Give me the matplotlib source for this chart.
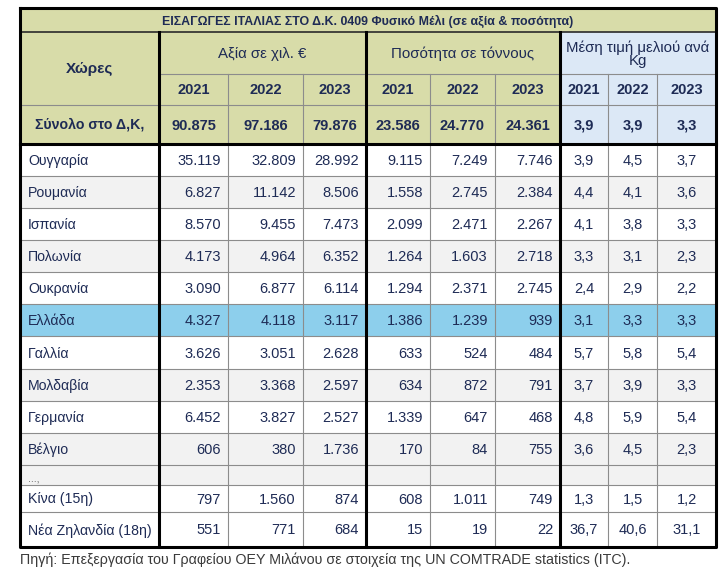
import matplotlib
matplotlib.use("Agg")
import matplotlib.pyplot as plt
from matplotlib.patches import Rectangle

plt.rcParams['font.family'] = ['Liberation Sans', 'DejaVu Sans']

# ---------------- data ----------------
title = "ΕΙΣΑΓΩΓΕΣ ΙΤΑΛΙΑΣ ΣΤΟ Δ.Κ. 0409 Φυσικό Μέλι (σε αξία & ποσότητα)"
group_labels = ["Αξία σε χιλ. €", "Ποσότητα σε τόννους", "Μέση τιμή μελιού ανά\nKg"]
years = ["2021", "2022", "2023"]
first_header = "Χώρες"
total_label = "Σύνολο στο Δ,Κ,"
total_value = [90875, 97186, 79876]
total_qty = [23586, 24770, 24361]
total_price = [3.9, 3.9, 3.3]

countries = ['Ουγγαρία', 'Ρουμανία', 'Ισπανία', 'Πολωνία', 'Ουκρανία', 'Ελλάδα',
             'Γαλλία', 'Μολδαβία', 'Γερμανία', 'Βέλγιο', '...,', 'Κίνα (15η)',
             'Νέα Ζηλανδία (18η)']
value_2021 = [35119, 6827, 8570, 4173, 3090, 4327, 3626, 2353, 6452, 606, None, 797, 551]
value_2022 = [32809, 11142, 9455, 4964, 6877, 4118, 3051, 3368, 3827, 380, None, 1560, 771]
value_2023 = [28992, 8506, 7473, 6352, 6114, 3117, 2628, 2597, 2527, 1736, None, 874, 684]
qty_2021 = [9115, 1558, 2099, 1264, 1294, 1386, 633, 634, 1339, 170, None, 608, 15]
qty_2022 = [7249, 2745, 2471, 1603, 2371, 1239, 524, 872, 647, 84, None, 1011, 19]
qty_2023 = [7746, 2384, 2267, 2718, 2745, 939, 484, 791, 468, 755, None, 749, 22]
price_2021 = [3.9, 4.4, 4.1, 3.3, 2.4, 3.1, 5.7, 3.7, 4.8, 3.6, None, 1.3, 36.7]
price_2022 = [4.5, 4.1, 3.8, 3.1, 2.9, 3.3, 5.8, 3.9, 5.9, 4.5, None, 1.5, 40.6]
price_2023 = [3.7, 3.6, 3.3, 2.3, 2.2, 3.3, 5.4, 3.3, 5.4, 2.3, None, 1.2, 31.1]
highlight = 'Ελλάδα'
source = "Πηγή: Επεξεργασία του Γραφείου ΟΕΥ Μιλάνου σε στοιχεία της UN COMTRADE statistics (ITC)."

# ---------------- layout ----------------
col_x = [20, 159, 228, 303, 366, 430, 495, 560, 608, 657, 716]
y_top, y_title, y_group, y_years, y_total = 8, 32, 74, 105, 144
row_y = [144, 176, 208, 240, 272, 304, 336, 369, 401, 433, 465, 485, 512, 547]

OLIVE = '#D8DCA9'
BLUE_H = '#DCE8F6'
HILITE = '#8DCFEC'
GRAY = '#F2F2F2'
TXT = '#1E2B55'
LINE = '#8C8C8C'
FS = 10.5


def fmt_int(v):
    return f"{v:,}".replace(",", ".")


def fmt_dec(v):
    return f"{v:.1f}".replace(".", ",")


fig = plt.figure(figsize=(7.26, 5.78), dpi=100)
ax = fig.add_axes([0, 0, 1, 1])
ax.set_xlim(0, 726)
ax.set_ylim(578, 0)
ax.axis('off')


def cell(x0, x1, y0, y1, color):
    ax.add_patch(Rectangle((x0, y0), x1 - x0, y1 - y0, facecolor=color,
                           edgecolor='none', zorder=1))


# header backgrounds
cell(col_x[0], col_x[-1], y_top, y_title, OLIVE)
cell(col_x[0], col_x[7], y_title, y_total, OLIVE)
cell(col_x[7], col_x[-1], y_title, y_total, BLUE_H)

# body backgrounds
for i, c in enumerate(countries):
    if c == highlight:
        color = HILITE
    elif i in (1, 3, 7, 9, 10):
        color = GRAY
    else:
        color = 'white'
    cell(col_x[0], col_x[-1], row_y[i], row_y[i + 1], color)

# thin grid lines
thin = dict(color=LINE, lw=0.8, zorder=2)
for y in row_y[1:-1]:
    ax.plot([col_x[0], col_x[-1]], [y, y], **thin)
ax.plot([col_x[1], col_x[-1]], [y_group, y_group], **thin)
ax.plot([col_x[0], col_x[-1]], [y_years, y_years], **thin)
for k in (2, 3, 5, 6, 8, 9):
    ax.plot([col_x[k], col_x[k]], [y_group, row_y[-1]], **thin)
ax.plot([col_x[0], col_x[-1]], [y_title, y_title], color='#2a2a2a', lw=1.2, zorder=3)

# thick lines
thick = dict(color='black', lw=2.2, zorder=4, solid_capstyle='projecting')
ax.plot([col_x[0], col_x[-1], col_x[-1], col_x[0], col_x[0]],
        [y_top, y_top, row_y[-1], row_y[-1], y_top], **thick)
for k in (1, 4, 7):
    ax.plot([col_x[k], col_x[k]], [y_title, row_y[-1]], **thick)
ax.plot([col_x[0], col_x[-1]], [y_total, y_total], **thick)

# header texts
ax.text((col_x[0] + col_x[-1]) / 2, (y_top + y_title) / 2 + 1, title, ha='center',
        va='center', fontsize=8.9, fontweight='bold', color=TXT, zorder=5)
ax.text((col_x[0] + col_x[1]) / 2, (y_title + y_years) / 2, first_header, ha='center',
        va='center', fontsize=11, fontweight='bold', color=TXT, zorder=5)
for g, lab in enumerate(group_labels):
    x0, x1 = col_x[1 + 3 * g], col_x[4 + 3 * g]
    ax.text((x0 + x1) / 2, (y_title + y_group) / 2 + 1, lab, ha='center', va='center',
            fontsize=10.8, color=TXT, zorder=5, linespacing=0.9)
    for j, yr in enumerate(years):
        xa, xb = col_x[1 + 3 * g + j], col_x[2 + 3 * g + j]
        ax.text((xa + xb) / 2, (y_group + y_years) / 2 + 1, yr, ha='center', va='center',
                fontsize=FS, fontweight='bold', color=TXT, zorder=5)

# totals row
ax.text((col_x[0] + col_x[1]) / 2, (y_years + y_total) / 2, total_label, ha='center',
        va='center', fontsize=10.2, fontweight='bold', color=TXT, zorder=5)
tot_strs = [fmt_int(v) for v in total_value] + [fmt_int(v) for v in total_qty] + \
           [fmt_dec(v) for v in total_price]
for k, s in enumerate(tot_strs):
    xa, xb = col_x[1 + k], col_x[2 + k]
    ax.text((xa + xb) / 2, (y_years + y_total) / 2 + 1, s, ha='center', va='center',
            fontsize=FS, fontweight='bold', color=TXT, zorder=5)

# body rows
int_cols = [value_2021, value_2022, value_2023, qty_2021, qty_2022, qty_2023]
dec_cols = [price_2021, price_2022, price_2023]
for i, c in enumerate(countries):
    yc = (row_y[i] + row_y[i + 1]) / 2 + 1
    if c == '...,':
        ax.text(col_x[0] + 8, yc + 3, c, ha='left', va='center', fontsize=7.5,
                color='#555555', zorder=5)
        continue
    ax.text(col_x[0] + 8, yc, c, ha='left', va='center', fontsize=10.2,
            color=TXT, zorder=5)
    for k, col in enumerate(int_cols):
        v = col[i]
        if v is None:
            continue
        ax.text(col_x[2 + k] - 7, yc, fmt_int(v), ha='right', va='center',
                fontsize=FS, color=TXT, zorder=5)
    for k, col in enumerate(dec_cols):
        v = col[i]
        if v is None:
            continue
        xa, xb = col_x[7 + k], col_x[8 + k]
        ax.text((xa + xb) / 2, yc, fmt_dec(v), ha='center', va='center',
                fontsize=FS, color=TXT, zorder=5)

ax.text(col_x[0], 560, source, ha='left', va='center', fontsize=10.3,
        color='#3a3a3a', zorder=5)

fig.savefig("out.png", dpi=100)
